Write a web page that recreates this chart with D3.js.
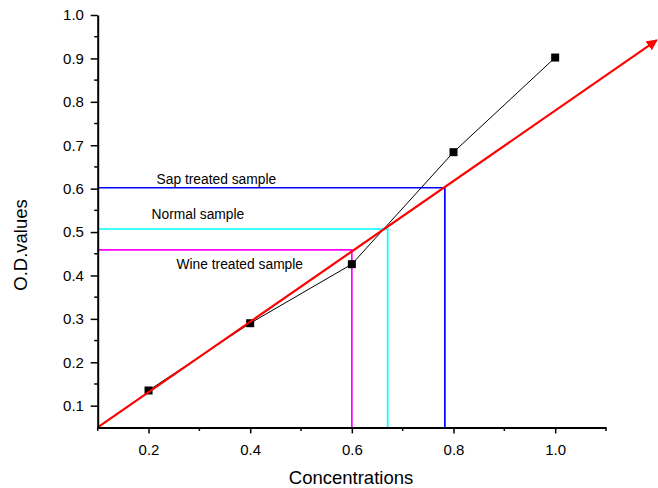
<!DOCTYPE html>
<html><head><meta charset="utf-8">
<script src="https://cdn.jsdelivr.net/npm/d3@7"></script>
<style>body{margin:0;background:#fff}svg{display:block}text{font-family:"Liberation Sans",Arial,sans-serif;fill:#000}</style>
</head><body><svg id="c" width="658" height="488"></svg>
<script>
const concentrations = [0.2, 0.4, 0.6, 0.8, 1.0];
const odValues = [0.135, 0.29, 0.426, 0.684, 0.902];
const fitLine = [[0.1, 0.05], [1.2, 0.942]];
const samples = [
  {name: "Sap treated sample", x: 0.783, y: 0.602, color: "#0000ff"},
  {name: "Normal sample", x: 0.6705, y: 0.507, color: "#00ffff"},
  {name: "Wine treated sample", x: 0.6, y: 0.459, color: "#ff00ff"}
];
const xTicks = [0.2, 0.4, 0.6, 0.8, 1.0];
const yTicks = [0.1, 0.2, 0.3, 0.4, 0.5, 0.6, 0.7, 0.8, 0.9, 1.0];

const svg = d3.select("#c");
const x = d3.scaleLinear().domain([0.1, 1.1]).range([97.7, 606]);
const y = d3.scaleLinear().domain([0.05, 1.0]).range([427.4, 15]);

samples.forEach(s => {
  svg.append("path")
    .attr("d", d3.line()([[x(0.1), y(s.y)], [x(s.x), y(s.y)], [x(s.x), y(0.05)]]))
    .attr("fill", "none").attr("stroke", s.color).attr("stroke-width", 1.7);
});

const labelPos = [[156.5, 184], [151.5, 219], [176.5, 269]];
samples.forEach((s, i) => {
  svg.append("text").attr("x", labelPos[i][0]).attr("y", labelPos[i][1])
    .attr("font-size", 13.8).text(s.name);
});

svg.append("path")
  .attr("d", d3.line().x((d, i) => x(concentrations[i])).y(d => y(d))(odValues))
  .attr("fill", "none").attr("stroke", "#000").attr("stroke-width", 1);

svg.selectAll("rect.m").data(odValues).join("rect").attr("class", "m")
  .attr("x", (d, i) => x(concentrations[i]) - 4).attr("y", d => y(d) - 4)
  .attr("width", 8).attr("height", 8).attr("fill", "#000");

svg.append("defs").append("marker").attr("id", "arr")
  .attr("viewBox", "0 0 10 10").attr("refX", 9).attr("refY", 5)
  .attr("markerWidth", 5).attr("markerHeight", 5).attr("orient", "auto")
  .attr("markerUnits", "strokeWidth")
  .append("path").attr("d", "M0,0L10,5L0,10z").attr("fill", "#ff0000");
svg.append("path")
  .attr("d", d3.line().x(d => x(d[0])).y(d => y(d[1]))(fitLine))
  .attr("fill", "none").attr("stroke", "#ff0000").attr("stroke-width", 2.2)
  .attr("marker-end", "url(#arr)");

const xAxis = d3.axisBottom(x).tickValues(xTicks).tickFormat(d3.format(".1f")).tickSize(6).tickSizeOuter(0);
const gx = svg.append("g").attr("transform", `translate(0,${y(0.05)})`).call(xAxis);
gx.selectAll("text").attr("font-size", 15).attr("dy", "1.25em");
gx.select(".domain").attr("stroke-width", 2);
gx.selectAll(".tick line").attr("stroke-width", 1.5);
const xMinor = [0.1, 0.3, 0.5, 0.7, 0.9, 1.1];
gx.selectAll("line.minor").data(xMinor).join("line").attr("class", "minor")
  .attr("x1", d => x(d)).attr("x2", d => x(d)).attr("y1", 0).attr("y2", 3.5)
  .attr("stroke", "#000").attr("stroke-width", 1.5);

const yAxis = d3.axisLeft(y).tickValues(yTicks).tickFormat(d3.format(".1f")).tickSize(7).tickSizeOuter(0);
const gy = svg.append("g").attr("transform", `translate(${x(0.1)},0)`).call(yAxis);
gy.selectAll("text").attr("font-size", 15).attr("dx", "-0.25em");
gy.select(".domain").attr("stroke-width", 2);
gy.selectAll(".tick line").attr("stroke-width", 1.5);
const yMinor = [0.15, 0.25, 0.35, 0.45, 0.55, 0.65, 0.75, 0.85, 0.95];
gy.selectAll("line.minor").data(yMinor).join("line").attr("class", "minor")
  .attr("y1", d => y(d)).attr("y2", d => y(d)).attr("x1", 0).attr("x2", -3.5)
  .attr("stroke", "#000").attr("stroke-width", 1.5);
gx.selectAll("text").attr("font-family", '"Liberation Sans",Arial,sans-serif');
gy.selectAll("text").attr("font-family", '"Liberation Sans",Arial,sans-serif');

svg.append("text").attr("x", 351).attr("y", 484).attr("text-anchor", "middle")
  .attr("font-size", 18.5).text("Concentrations");
svg.append("text").attr("transform", "translate(27,245) rotate(-90)").attr("text-anchor", "middle")
  .attr("font-size", 18.5).text("O.D.values");
</script></body></html>
